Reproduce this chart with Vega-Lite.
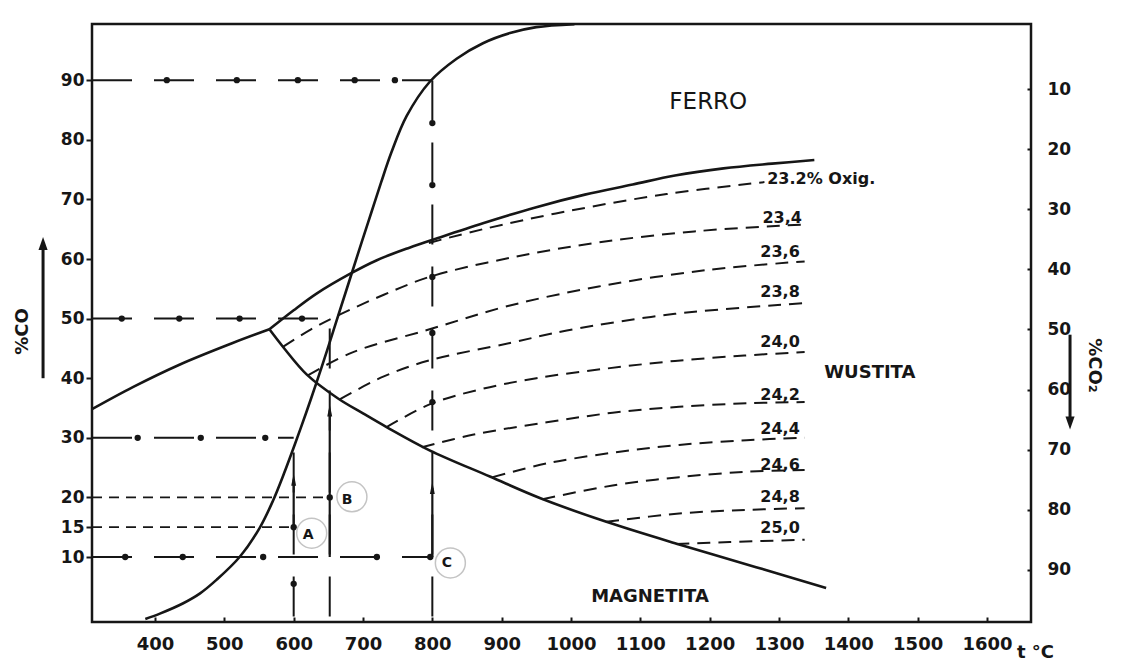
{
  "$schema": "https://vega.github.io/schema/vega-lite/v6.json",
  "width": 939,
  "height": 598,
  "autosize": {"type": "none"},
  "padding": {"left": 92, "top": 24, "right": 93, "bottom": 44},
  "background": "white",
  "config": {
    "view": {"stroke": "#161616", "strokeWidth": 2.5},
    "font": "DejaVu Sans",
    "axis": {"grid": false, "domain": false, "labelFont": "DejaVu Sans", "labelFontWeight": "bold", "labelColor": "#161616", "tickColor": "#161616", "tickWidth": 2, "titleFont": "DejaVu Sans", "titleFontWeight": "bold", "titleColor": "#161616"}
  },
  "datasets": {
    "bound": [
      {"curve": "C", "t": 386, "co": -0.4}, {"curve": "C", "t": 407, "co": 0.5}, {"curve": "C", "t": 440, "co": 2.2}, {"curve": "C", "t": 465, "co": 3.9}, {"curve": "C", "t": 489, "co": 6.2}, {"curve": "C", "t": 522, "co": 10}, {"curve": "C", "t": 551, "co": 14.9}, {"curve": "C", "t": 570, "co": 19.4}, {"curve": "C", "t": 586, "co": 24}, {"curve": "C", "t": 602, "co": 29}, {"curve": "C", "t": 618, "co": 34.2}, {"curve": "C", "t": 633, "co": 39.3}, {"curve": "C", "t": 648, "co": 44.6}, {"curve": "C", "t": 662, "co": 49.7}, {"curve": "C", "t": 681, "co": 56.6}, {"curve": "C", "t": 698, "co": 62.8}, {"curve": "C", "t": 712, "co": 67.8}, {"curve": "C", "t": 726, "co": 72.8}, {"curve": "C", "t": 741, "co": 77.9}, {"curve": "C", "t": 763, "co": 84}, {"curve": "C", "t": 796, "co": 89.7}, {"curve": "C", "t": 835, "co": 93.6}, {"curve": "C", "t": 873, "co": 96.2}, {"curve": "C", "t": 912, "co": 97.9}, {"curve": "C", "t": 950, "co": 98.9}, {"curve": "C", "t": 1005, "co": 99.4},
      {"curve": "Fe/FeO", "t": 565, "co": 48.2}, {"curve": "Fe/FeO", "t": 600, "co": 51.4}, {"curve": "Fe/FeO", "t": 633, "co": 54.2}, {"curve": "Fe/FeO", "t": 681, "co": 57.5}, {"curve": "Fe/FeO", "t": 720, "co": 59.8}, {"curve": "Fe/FeO", "t": 767, "co": 61.9}, {"curve": "Fe/FeO", "t": 805, "co": 63.4}, {"curve": "Fe/FeO", "t": 873, "co": 66}, {"curve": "Fe/FeO", "t": 950, "co": 68.7}, {"curve": "Fe/FeO", "t": 1020, "co": 70.8}, {"curve": "Fe/FeO", "t": 1089, "co": 72.5}, {"curve": "Fe/FeO", "t": 1150, "co": 74.0}, {"curve": "Fe/FeO", "t": 1220, "co": 75.2}, {"curve": "Fe/FeO", "t": 1290, "co": 76.0}, {"curve": "Fe/FeO", "t": 1351, "co": 76.6},
      {"curve": "Fe/Fe3O4", "t": 309.1, "co": 34.8}, {"curve": "Fe/Fe3O4", "t": 368, "co": 38.5}, {"curve": "Fe/Fe3O4", "t": 436, "co": 42.3}, {"curve": "Fe/Fe3O4", "t": 512, "co": 45.9}, {"curve": "Fe/Fe3O4", "t": 565, "co": 48.2},
      {"curve": "FeO/Fe3O4", "t": 565, "co": 48.2}, {"curve": "FeO/Fe3O4", "t": 585, "co": 45.2}, {"curve": "FeO/Fe3O4", "t": 619, "co": 40.6}, {"curve": "FeO/Fe3O4", "t": 664, "co": 36.6}, {"curve": "FeO/Fe3O4", "t": 700, "co": 34.1}, {"curve": "FeO/Fe3O4", "t": 734, "co": 31.8}, {"curve": "FeO/Fe3O4", "t": 796, "co": 27.9}, {"curve": "FeO/Fe3O4", "t": 883, "co": 23.5}, {"curve": "FeO/Fe3O4", "t": 955, "co": 19.9}, {"curve": "FeO/Fe3O4", "t": 1051, "co": 15.9}, {"curve": "FeO/Fe3O4", "t": 1156, "co": 12.1}, {"curve": "FeO/Fe3O4", "t": 1267, "co": 8.3}, {"curve": "FeO/Fe3O4", "t": 1368, "co": 4.8}
    ],
    "iso": [
      {"oxy": "23.2", "t": 795, "co": 62.7}, {"oxy": "23.2", "t": 873, "co": 65.0}, {"oxy": "23.2", "t": 994, "co": 68.0}, {"oxy": "23.2", "t": 1138, "co": 70.9}, {"oxy": "23.2", "t": 1279, "co": 72.9},
      {"oxy": "23.4", "t": 585, "co": 45.3}, {"oxy": "23.4", "t": 625, "co": 48.2}, {"oxy": "23.4", "t": 667, "co": 50.7}, {"oxy": "23.4", "t": 730, "co": 54.0}, {"oxy": "23.4", "t": 796, "co": 57.0}, {"oxy": "23.4", "t": 912, "co": 60.2}, {"oxy": "23.4", "t": 1041, "co": 62.8}, {"oxy": "23.4", "t": 1185, "co": 64.7}, {"oxy": "23.4", "t": 1337, "co": 65.8},
      {"oxy": "23.6", "t": 621, "co": 40.5}, {"oxy": "23.6", "t": 684, "co": 44.3}, {"oxy": "23.6", "t": 796, "co": 48.2}, {"oxy": "23.6", "t": 912, "co": 52.2}, {"oxy": "23.6", "t": 1050, "co": 55.6}, {"oxy": "23.6", "t": 1200, "co": 58.2}, {"oxy": "23.6", "t": 1337, "co": 59.6},
      {"oxy": "23.8", "t": 667, "co": 36.5}, {"oxy": "23.8", "t": 730, "co": 40.3}, {"oxy": "23.8", "t": 796, "co": 43.0}, {"oxy": "23.8", "t": 912, "co": 45.9}, {"oxy": "23.8", "t": 994, "co": 48.0}, {"oxy": "23.8", "t": 1150, "co": 50.8}, {"oxy": "23.8", "t": 1337, "co": 52.6},
      {"oxy": "24.0", "t": 734, "co": 31.8}, {"oxy": "24.0", "t": 796, "co": 35.6}, {"oxy": "24.0", "t": 868, "co": 38.1}, {"oxy": "24.0", "t": 950, "co": 40.0}, {"oxy": "24.0", "t": 1050, "co": 41.6}, {"oxy": "24.0", "t": 1150, "co": 42.9}, {"oxy": "24.0", "t": 1250, "co": 43.8}, {"oxy": "24.0", "t": 1337, "co": 44.4},
      {"oxy": "24.2", "t": 785, "co": 28.4}, {"oxy": "24.2", "t": 858, "co": 30.5}, {"oxy": "24.2", "t": 965, "co": 32.6}, {"oxy": "24.2", "t": 1060, "co": 34.2}, {"oxy": "24.2", "t": 1156, "co": 35.2}, {"oxy": "24.2", "t": 1257, "co": 35.8}, {"oxy": "24.2", "t": 1337, "co": 36.0},
      {"oxy": "24.4", "t": 887, "co": 23.4}, {"oxy": "24.4", "t": 965, "co": 25.7}, {"oxy": "24.4", "t": 1060, "co": 27.5}, {"oxy": "24.4", "t": 1156, "co": 28.8}, {"oxy": "24.4", "t": 1253, "co": 29.6}, {"oxy": "24.4", "t": 1337, "co": 30.0},
      {"oxy": "24.6", "t": 959, "co": 19.7}, {"oxy": "24.6", "t": 1060, "co": 22.0}, {"oxy": "24.6", "t": 1156, "co": 23.4}, {"oxy": "24.6", "t": 1253, "co": 24.3}, {"oxy": "24.6", "t": 1337, "co": 24.6},
      {"oxy": "24.8", "t": 1051, "co": 15.9}, {"oxy": "24.8", "t": 1156, "co": 17.3}, {"oxy": "24.8", "t": 1253, "co": 17.9}, {"oxy": "24.8", "t": 1337, "co": 18.2},
      {"oxy": "25.0", "t": 1152, "co": 12.2}, {"oxy": "25.0", "t": 1229, "co": 12.5}, {"oxy": "25.0", "t": 1337, "co": 12.9}
    ],
    "hdd": [
      {"co": 90, "t0": 309.1, "t1": 800}, {"co": 50, "t0": 309.1, "t1": 652}, {"co": 30, "t0": 309.1, "t1": 600}, {"co": 10, "t0": 309.1, "t1": 800}
    ],
    "hdash": [
      {"co": 20, "t0": 309.1, "t1": 652}, {"co": 15, "t0": 309.1, "t1": 600}
    ],
    "vdd": [
      {"t": 800, "co0": 0, "co1": 90}, {"t": 600, "co0": 0, "co1": 30}, {"t": 652, "co0": 0, "co1": 50}
    ],
    "shafts": [
      {"t": 600, "co0": 15, "co1": 23}, {"t": 652, "co0": 10, "co1": 34.6}, {"t": 800, "co0": 10, "co1": 21.6}
    ],
    "dots": [
      {"t": 417, "co": 90}, {"t": 518, "co": 90}, {"t": 606, "co": 90}, {"t": 688, "co": 90}, {"t": 746, "co": 90},
      {"t": 352, "co": 50}, {"t": 435, "co": 50}, {"t": 522, "co": 50}, {"t": 612, "co": 50},
      {"t": 375, "co": 30}, {"t": 466, "co": 30}, {"t": 559, "co": 30},
      {"t": 357, "co": 10}, {"t": 440, "co": 10}, {"t": 556, "co": 10}, {"t": 720, "co": 10},
      {"t": 800, "co": 82.8}, {"t": 800, "co": 72.4}, {"t": 800, "co": 57}, {"t": 800, "co": 47.6}, {"t": 800, "co": 36},
      {"t": 600, "co": 5.5}, {"t": 600, "co": 15}, {"t": 652, "co": 20}, {"t": 797, "co": 10}
    ],
    "points": [
      {"label": "A", "t": 621, "co": 13.7, "rt": 626, "rco": 14},
      {"label": "B", "t": 677, "co": 19.6, "rt": 684, "rco": 20.1},
      {"label": "C", "t": 821, "co": 9.0, "rt": 826, "rco": 9.0}
    ],
    "regions": [
      {"label": "FERRO", "t": 1198, "co": 86.3},
      {"label": "WUSTITA", "t": 1431, "co": 40.9},
      {"label": "MAGNETITA", "t": 1114, "co": 3.3}
    ],
    "isolab": [
      {"label": "23,4", "t": 1333, "co": 66.8}, {"label": "23,6", "t": 1330, "co": 61.2}, {"label": "23,8", "t": 1330, "co": 54.5}, {"label": "24,0", "t": 1330, "co": 46.0}, {"label": "24,2", "t": 1330, "co": 37.2}, {"label": "24,4", "t": 1330, "co": 31.5}, {"label": "24,6", "t": 1330, "co": 25.4}, {"label": "24,8", "t": 1330, "co": 20.1}, {"label": "25,0", "t": 1330, "co": 14.8}
    ],
    "isolab0": [
      {"label": "23.2% Oxig.", "t": 1283, "co": 73.5}
    ],
    "arrowup": [{"t": 238.5, "co0": 40, "co1": 62.6}],
    "arrowdown": [{"t": 1719.8, "co0": 47.3, "co1": 32.5}],
    "co2ticks": [{"co2": 10}, {"co2": 20}, {"co2": 30}, {"co2": 40}, {"co2": 50}, {"co2": 60}, {"co2": 70}, {"co2": 80}, {"co2": 90}]
  },
  "layer": [
    {
      "layer": [
        {
          "data": {"name": "bound"},
          "mark": {"type": "line", "stroke": "#161616", "strokeWidth": 2.6, "interpolate": "catmull-rom"},
          "encoding": {
            "x": {"field": "t", "type": "quantitative", "scale": {"domain": [309.1, 1663.5], "nice": false, "zero": false},
              "axis": {"values": [400, 500, 600, 700, 800, 900, 1000, 1100, 1200, 1300, 1400, 1500, 1600], "format": "d", "title": "t °C", "labelFontSize": 18, "tickSize": -5, "labelPadding": 18, "titleFontSize": 18, "titleX": 943, "titleY": 30, "titleAlign": "center", "titleBaseline": "middle", "titleAngle": 0}},
            "y": {"field": "co", "type": "quantitative", "scale": {"domain": [-0.906, 99.43], "nice": false, "zero": false},
              "axis": {"values": [10, 15, 20, 30, 40, 50, 60, 70, 80, 90], "title": "%CO", "labelFontSize": 17, "tickSize": 6, "labelPadding": 2, "titleFontSize": 18, "titleAngle": 270, "titleX": -70, "titleY": 307, "titleAlign": "center", "titleBaseline": "middle"}},
            "detail": {"field": "curve"}
          }
        },
        {
          "data": {"name": "iso"},
          "mark": {"type": "line", "stroke": "#161616", "strokeWidth": 2, "strokeDash": [13, 8], "interpolate": "catmull-rom"},
          "encoding": {"x": {"field": "t", "type": "quantitative"}, "y": {"field": "co", "type": "quantitative"}, "detail": {"field": "oxy"}}
        },
        {
          "data": {"name": "hdd"},
          "mark": {"type": "rule", "stroke": "#161616", "strokeWidth": 2, "strokeDash": [40, 22]},
          "encoding": {"x": {"field": "t0", "type": "quantitative"}, "x2": {"field": "t1"}, "y": {"field": "co", "type": "quantitative"}}
        },
        {
          "data": {"name": "hdash"},
          "mark": {"type": "rule", "stroke": "#161616", "strokeWidth": 1.8, "strokeDash": [10, 7]},
          "encoding": {"x": {"field": "t0", "type": "quantitative"}, "x2": {"field": "t1"}, "y": {"field": "co", "type": "quantitative"}}
        },
        {
          "data": {"name": "vdd"},
          "mark": {"type": "rule", "stroke": "#161616", "strokeWidth": 2, "strokeDash": [40, 22]},
          "encoding": {"x": {"field": "t", "type": "quantitative"}, "y": {"field": "co0", "type": "quantitative"}, "y2": {"field": "co1"}}
        },
        {
          "data": {"name": "shafts"},
          "mark": {"type": "rule", "stroke": "#161616", "strokeWidth": 2.2},
          "encoding": {"x": {"field": "t", "type": "quantitative"}, "y": {"field": "co0", "type": "quantitative"}, "y2": {"field": "co1"}}
        },
        {
          "data": {"name": "shafts"},
          "mark": {"type": "point", "shape": "M -0.4 1 L 0 -1 L 0.4 1 Z", "filled": true, "color": "#161616", "opacity": 1, "size": 150},
          "encoding": {"x": {"field": "t", "type": "quantitative"}, "y": {"field": "co1", "type": "quantitative"}}
        },
        {
          "data": {"name": "dots"},
          "mark": {"type": "point", "shape": "circle", "filled": true, "color": "#161616", "opacity": 1, "size": 40},
          "encoding": {"x": {"field": "t", "type": "quantitative"}, "y": {"field": "co", "type": "quantitative"}}
        },
        {
          "data": {"name": "points"},
          "mark": {"type": "point", "shape": "circle", "filled": false, "stroke": "#c4c4c4", "strokeWidth": 1.5, "opacity": 1, "size": 900},
          "encoding": {"x": {"field": "rt", "type": "quantitative"}, "y": {"field": "rco", "type": "quantitative"}}
        },
        {
          "data": {"name": "points"},
          "mark": {"type": "text", "font": "DejaVu Sans", "fontWeight": "bold", "fontSize": 14, "color": "#161616", "align": "center", "baseline": "middle"},
          "encoding": {"x": {"field": "t", "type": "quantitative"}, "y": {"field": "co", "type": "quantitative"}, "text": {"field": "label"}}
        },
        {
          "data": {"name": "regions"},
          "transform": [{"filter": "datum.label === 'FERRO'"}],
          "mark": {"type": "text", "font": "DejaVu Sans", "fontSize": 23, "color": "#161616", "align": "center", "baseline": "middle"},
          "encoding": {"x": {"field": "t", "type": "quantitative"}, "y": {"field": "co", "type": "quantitative"}, "text": {"field": "label"}}
        },
        {
          "data": {"name": "regions"},
          "transform": [{"filter": "datum.label !== 'FERRO'"}],
          "mark": {"type": "text", "font": "DejaVu Sans", "fontWeight": "bold", "fontSize": 18, "color": "#161616", "align": "center", "baseline": "middle"},
          "encoding": {"x": {"field": "t", "type": "quantitative"}, "y": {"field": "co", "type": "quantitative"}, "text": {"field": "label"}}
        },
        {
          "data": {"name": "isolab"},
          "mark": {"type": "text", "font": "DejaVu Sans", "fontWeight": "bold", "fontSize": 16, "color": "#161616", "align": "right", "baseline": "middle"},
          "encoding": {"x": {"field": "t", "type": "quantitative"}, "y": {"field": "co", "type": "quantitative"}, "text": {"field": "label"}}
        },
        {
          "data": {"name": "isolab0"},
          "mark": {"type": "text", "font": "DejaVu Sans", "fontWeight": "bold", "fontSize": 16, "color": "#161616", "align": "left", "baseline": "middle"},
          "encoding": {"x": {"field": "t", "type": "quantitative"}, "y": {"field": "co", "type": "quantitative"}, "text": {"field": "label"}}
        },
        {
          "data": {"name": "arrowup"},
          "mark": {"type": "rule", "stroke": "#161616", "strokeWidth": 3},
          "encoding": {"x": {"field": "t", "type": "quantitative"}, "y": {"field": "co0", "type": "quantitative"}, "y2": {"field": "co1"}}
        },
        {
          "data": {"name": "arrowup"},
          "mark": {"type": "point", "shape": "M -0.7 1 L 0 -1 L 0.7 1 Z", "filled": true, "color": "#161616", "opacity": 1, "size": 170},
          "encoding": {"x": {"field": "t", "type": "quantitative"}, "y": {"field": "co1", "type": "quantitative"}}
        },
        {
          "data": {"name": "arrowdown"},
          "mark": {"type": "rule", "stroke": "#161616", "strokeWidth": 3},
          "encoding": {"x": {"field": "t", "type": "quantitative"}, "y": {"field": "co0", "type": "quantitative"}, "y2": {"field": "co1"}}
        },
        {
          "data": {"name": "arrowdown"},
          "mark": {"type": "point", "shape": "M -0.7 -1 L 0 1 L 0.7 -1 Z", "filled": true, "color": "#161616", "opacity": 1, "size": 170},
          "encoding": {"x": {"field": "t", "type": "quantitative"}, "y": {"field": "co1", "type": "quantitative"}}
        }
      ]
    },
    {
      "data": {"name": "co2ticks"},
      "mark": {"type": "point", "opacity": 0},
      "encoding": {
        "y": {"field": "co2", "type": "quantitative", "scale": {"domain": [-0.83, 98.67], "reverse": true, "nice": false, "zero": false},
          "axis": {"orient": "right", "values": [10, 20, 30, 40, 50, 60, 70, 80, 90], "title": "%CO₂", "labelFontSize": 17, "tickSize": -4, "labelPadding": 20, "titleFontSize": 18, "titleAngle": 90, "titleX": 62, "titleY": 341, "titleAlign": "center", "titleBaseline": "middle"}}
      }
    }
  ],
  "resolve": {"scale": {"y": "independent"}, "axis": {"y": "independent"}}
}
